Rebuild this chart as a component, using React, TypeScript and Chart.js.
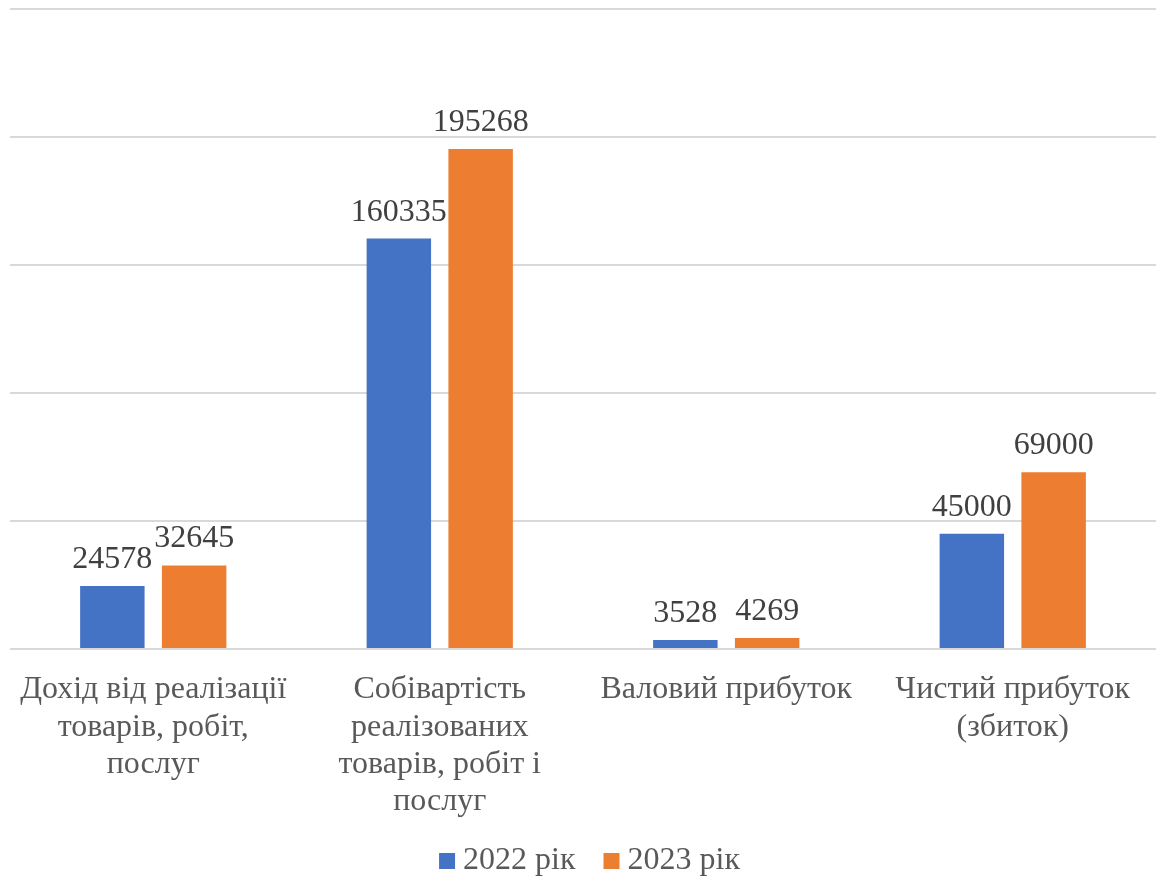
import React, { useEffect, useRef } from "react";
import { Chart, registerables } from "chart.js";

Chart.register(...registerables);

const categories: string[][] = [
  ["Дохід від реалізації", "товарів, робіт,", "послуг"],
  ["Собівартість", "реалізованих", "товарів, робіт і", "послуг"],
  ["Валовий прибуток"],
  ["Чистий прибуток", "(збиток)"],
];
const values2022: number[] = [24578, 160335, 3528, 45000];
const values2023: number[] = [32645, 195268, 4269, 69000];
const seriesNames: string[] = ["2022 рік", "2023 рік"];
const seriesColors: string[] = ["#4472C4", "#ED7D31"];
const yMax = 250000;
const yStep = 50000;

const FONT = "'Liberation Serif', 'Times New Roman', serif";

const dataLabels = {
  id: "dataLabels",
  afterDatasetsDraw(chart: any) {
    const ctx = chart.ctx;
    ctx.save();
    ctx.font = `32px ${FONT}`;
    ctx.fillStyle = "#404040";
    ctx.textAlign = "center";
    ctx.textBaseline = "alphabetic";
    chart.data.datasets.forEach((ds: any, i: number) => {
      const meta = chart.getDatasetMeta(i);
      meta.data.forEach((bar: any, j: number) => {
        ctx.fillText(String(ds.data[j]), bar.x, bar.y - 18);
      });
    });
    ctx.restore();
  },
};

export default function App() {
  const ref = useRef<HTMLCanvasElement | null>(null);
  useEffect(() => {
    document.body.style.margin = "0";
    const canvas = ref.current!;
    const chart = new Chart(canvas, {
      type: "bar",
      data: {
        labels: categories,
        datasets: seriesNames.map((name, i) => ({
          label: name,
          data: i === 0 ? values2022 : values2023,
          backgroundColor: seriesColors[i],
          categoryPercentage: 0.571,
          barPercentage: 0.788,
        })),
      },
      options: {
        animation: false,
        responsive: false,
        maintainAspectRatio: false,
        layout: { padding: { top: 9, left: 10, right: -21, bottom: -8 } },
        plugins: {
          tooltip: { enabled: false },
          legend: {
            position: "bottom",
            labels: {
              usePointStyle: true,
              pointStyle: "rect",
              boxWidth: 0.01,
              boxHeight: 16,
              padding: 20,
              color: "#595959",
              font: { family: FONT, size: 32 },
              generateLabels: (c: any) =>
                c.data.datasets.map((ds: any, i: number) => ({
                  text: i === 0 ? ds.label + "\u2002" : ds.label,
                  fillStyle: ds.backgroundColor,
                  strokeStyle: ds.backgroundColor,
                  lineWidth: 0,
                  pointStyle: "rect",
                  fontColor: "#595959",
                  hidden: false,
                  datasetIndex: i,
                })),
            },
          },
        },
        scales: {
          x: {
            grid: { display: false, drawTicks: false },
            border: { display: false },
            ticks: {
              color: "#595959",
              font: { family: FONT, size: 32, lineHeight: 1.17 },
              padding: 22,
              maxRotation: 0,
              minRotation: 0,
              autoSkip: false,
            },
            afterFit: (s: any) => {
              s.height = 176;
              s.paddingLeft = 0;
              s.paddingRight = 0;
            },
          },
          y: {
            position: "right",
            min: 0,
            max: yMax,
            ticks: { display: false, stepSize: yStep },
            grid: { color: "#d9d9d9", lineWidth: 2, drawTicks: false },
            border: { display: false },
            afterFit: (s: any) => {
              s.width = 19;
            },
          },
        },
      },
      plugins: [dataLabels],
    });
    return () => chart.destroy();
  }, []);
  return (
    <canvas
      ref={ref}
      width={1156}
      height={879}
      style={{ display: "block", width: 1156, height: 879 }}
    />
  );
}
